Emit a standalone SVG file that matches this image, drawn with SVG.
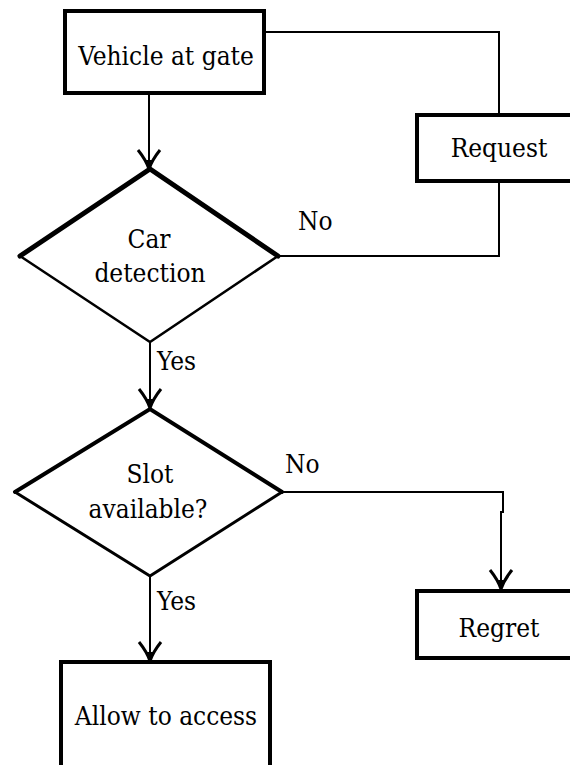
<svg xmlns="http://www.w3.org/2000/svg" width="570" height="765" viewBox="0 0 570 765">
<style>
.box{fill:#fff;stroke:#000;stroke-width:4}
.dia{fill:#fff;stroke:none}
.edge{fill:none;stroke:#000;stroke-linejoin:miter;stroke-linecap:round}
.conn{fill:none;stroke:#000;stroke-width:2}
.t{font-family:'DejaVu Serif Condensed','DejaVu Serif','Liberation Serif',serif;font-stretch:condensed;font-size:26px;fill:#000}
.c{text-anchor:middle}
</style>
<defs>
<marker id="arr" markerUnits="userSpaceOnUse" viewBox="-22 -13 24 26" refX="0" refY="0" markerWidth="24" markerHeight="26" orient="auto">
<path d="M-19,-11 Q-9,-3 0,0 Q-9,3 -19,11" fill="none" stroke="#000" stroke-width="3"/>
<path d="M-9,-3.5 L0,0 L-9,3.5 Z" fill="#000"/>
</marker>
</defs>
<rect width="570" height="765" fill="#fff"/>
<g id="connectors">
<path class="conn" d="M149,93 V169" marker-end="url(#arr)"/>
<path class="conn" d="M150,342 V408" marker-end="url(#arr)"/>
<path class="conn" d="M150,576 V661" marker-end="url(#arr)"/>
<path class="conn" d="M282,492 H503 V512 H501 V589" marker-end="url(#arr)"/>
<path class="conn" d="M264,32 H499 V115"/>
<path class="conn" d="M499,181 V256 H278"/>
</g>
<g id="vehicle">
<rect class="box" x="65" y="11" width="199" height="82"/>
<text class="t c" x="166" y="65">Vehicle at gate</text>
</g>
<g id="request">
<rect class="box" x="417" y="115" width="170" height="66"/>
<text class="t c" x="499" y="157">Request</text>
</g>
<g id="car-detection">
<polygon class="dia" points="150,169 278,256 150,342 20,256"/>
<path class="edge" d="M20,256 L150,169 L278,256" stroke-width="5"/>
<path class="edge" d="M20,256 L150,342 L278,256" stroke-width="2.5"/>
<text class="t c" x="149" y="248">Car</text>
<text class="t c" x="150" y="282">detection</text>
</g>
<g id="slot">
<polygon class="dia" points="150,409 282,492 150,576 15,492"/>
<path class="edge" d="M15,492 L150,409 L282,492" stroke-width="4"/>
<path class="edge" d="M15,492 L150,576 L282,492" stroke-width="3"/>
<text class="t c" x="150" y="483">Slot</text>
<text class="t c" x="148" y="518">available?</text>
</g>
<g id="regret">
<rect class="box" x="417" y="591" width="170" height="67"/>
<text class="t c" x="499" y="637">Regret</text>
</g>
<g id="allow">
<rect class="box" x="61" y="662" width="209" height="110"/>
<text class="t c" x="166" y="725">Allow to access</text>
</g>
<g id="labels">
<text class="t" x="298" y="230">No</text>
<text class="t" x="157" y="370">Yes</text>
<text class="t" x="285" y="473">No</text>
<text class="t" x="157" y="610">Yes</text>
</g>
</svg>
